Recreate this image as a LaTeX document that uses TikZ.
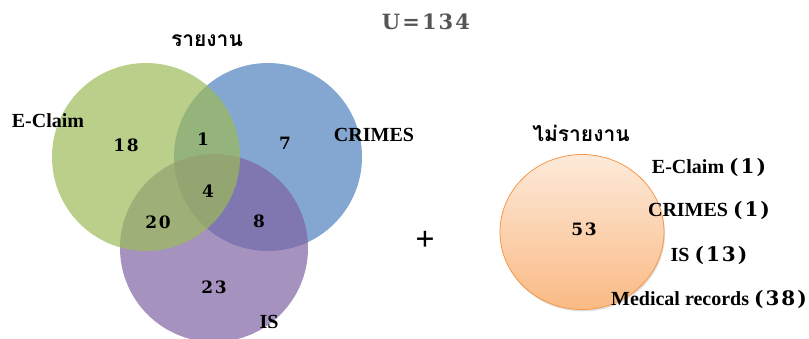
\documentclass[tikz,border=0pt]{standalone}
\usepackage{fontspec}
\setmainfont{Liberation Serif}
\newfontfamily\numfont[LetterSpace=10]{DejaVu Serif}
\newfontfamily\thaifont[Script=Thai]{Loma}
\usetikzlibrary{shapes.geometric,shadows}

\definecolor{vgreen}{RGB}{155,187,89}
\definecolor{vblue}{RGB}{79,129,189}
\definecolor{vpurple}{RGB}{128,100,162}
\definecolor{vorange}{RGB}{247,150,70}
\definecolor{vgray}{RGB}{85,85,85}

\begin{document}
\begin{tikzpicture}[x=1pt,y=-1pt,
        set/.style={circle,minimum size=188pt,inner sep=0pt,fill opacity=.7},
        lbl/.style={font=\bfseries\fontsize{20}{20}\selectfont},
        cnt/.style={font=\numfont\bfseries\fontsize{17}{17}\selectfont},
        thai/.style={font=\thaifont\bfseries\fontsize{21}{21}\selectfont}]
        \useasboundingbox (0,0) rectangle (809,338);
        % reported
        \foreach \n/\c/\x/\y in {crimes/vblue/268/157,is/vpurple/214/248,eclaim/vgreen/146/157} {
            \node[set,fill=\c] (\n) at (\x,\y) {};
        }
        \foreach \n/\v/\x/\y in {a/18/126/145,ab/1/203/139,b/7/285/143,abc/4/208/191,
                                 ac/20/158/222,bc/8/259/221,c/23/214/287} {
            \node[cnt] (n\n) at (\x,\y) {\v};
        }
        \node[lbl] (leclaim) at (48,121) {E-Claim};
        \node[lbl] (lcrimes) at (374,135) {CRIMES};
        \node[lbl] (lis) at (269,322) {IS};
        \node[thai] (rep) at (207,41) {รายงาน};
        \node[font=\numfont\bfseries\fontsize{21}{21}\selectfont,text=vgray] (u) at (426,22) {U=134};
        \node[font=\bfseries\fontsize{34}{34}\selectfont] (plus) at (425,241) {+};
        % not reported
        \node[ellipse,minimum width=164pt,minimum height=155pt,draw=vorange,line width=.8pt,
              top color={rgb,255:red,253;green,234;blue,218},bottom color={rgb,255:red,250;green,186;blue,132},
              drop shadow={opacity=.25,shadow xshift=1pt,shadow yshift=-2pt}] (nrep) at (582,232) {};
        \node[cnt] (nnrep) at (584,229) {53};
        \node[thai] (lnrep) at (581,133) {ไม่รายงาน};
        \foreach \n/\t/\v/\y in {e/E-Claim/1/167,cr/CRIMES/1/210,i/IS/13/255,m/Medical records/38/299} {
            \node[lbl] (r\n) at (709,\y) {\t\ {\numfont(\v)}};
        }
\end{tikzpicture}
\end{document}
